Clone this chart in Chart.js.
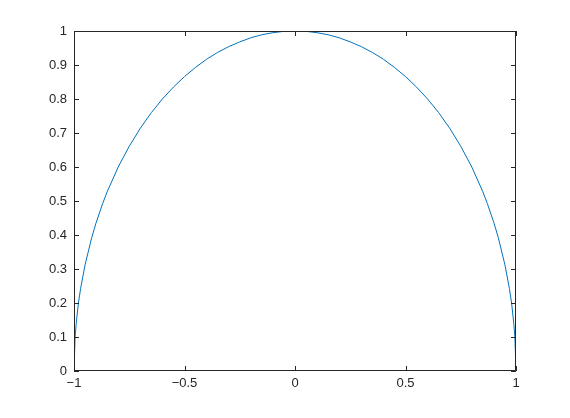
<!DOCTYPE html>
<html>
<head>
<meta charset="utf-8">
<script src="https://cdn.jsdelivr.net/npm/chart.js@4"></script>
<style>
  html, body { margin: 0; padding: 0; background: #fff; }
  #wrap { width: 570px; height: 418px; }
</style>
</head>
<body>
<div id="wrap"><canvas id="chart" width="570" height="418"></canvas></div>
<script>
// values
const xVals = [-1, -0.995, -0.99, -0.98, -0.97, -0.95, -0.92, -0.9, -0.87, -0.85, -0.8, -0.75, -0.7, -0.65, -0.6, -0.55, -0.5, -0.45, -0.4, -0.35, -0.3, -0.25, -0.2, -0.15, -0.1, -0.05, 0,
               0.05, 0.1, 0.15, 0.2, 0.25, 0.3, 0.35, 0.4, 0.45, 0.5, 0.55, 0.6, 0.65, 0.7, 0.75, 0.8, 0.85, 0.87, 0.9, 0.92, 0.95, 0.97, 0.98, 0.99, 0.995, 1];
const yVals = [0, 0.1, 0.14, 0.2, 0.243, 0.312, 0.392, 0.436, 0.493, 0.527, 0.6, 0.661, 0.714, 0.76, 0.8, 0.835, 0.866, 0.893, 0.917, 0.937, 0.954, 0.968, 0.98, 0.989, 0.995, 0.999, 1,
               0.999, 0.995, 0.989, 0.98, 0.968, 0.954, 0.937, 0.917, 0.893, 0.866, 0.835, 0.8, 0.76, 0.714, 0.661, 0.6, 0.527, 0.493, 0.436, 0.392, 0.312, 0.243, 0.2, 0.14, 0.1, 0];
const xTicks = [-1, -0.5, 0, 0.5, 1];
const yTicks = [0, 0.1, 0.2, 0.3, 0.4, 0.5, 0.6, 0.7, 0.8, 0.9, 1];

const points = xVals.map((x, i) => ({ x: x, y: yVals[i] }));
const axisColor = '#262626';

// box round the axes with inward tick marks, like the original
const boxPlugin = {
    id: 'box',
    afterDatasetsDraw(chart) {
        const { ctx, chartArea: a, scales } = chart;
        const len = 5;
        ctx.save();
        ctx.strokeStyle = axisColor;
        ctx.lineWidth = 1;
        ctx.beginPath();
        ctx.rect(a.left + 0.5, a.top + 0.5, a.right - a.left - 1, a.bottom - a.top - 1);
        xTicks.forEach(v => {
            const px = Math.round(scales.x.getPixelForValue(v)) + 0.5;
            ctx.moveTo(px, a.bottom); ctx.lineTo(px, a.bottom - len);
            ctx.moveTo(px, a.top); ctx.lineTo(px, a.top + len);
        });
        yTicks.forEach(v => {
            const py = Math.round(scales.y.getPixelForValue(v)) + 0.5;
            ctx.moveTo(a.left, py); ctx.lineTo(a.left + len, py);
            ctx.moveTo(a.right, py); ctx.lineTo(a.right - len, py);
        });
        ctx.stroke();
        ctx.restore();
    }
};

const fmt = v => String(v).replace('-', '\u2212');

new Chart(document.getElementById('chart'), {
    type: 'line',
    data: {
        datasets: [{
            data: points,
            borderColor: '#0072BD',
            borderWidth: 1,
            pointRadius: 0,
            tension: 0,
            fill: false
        }]
    },
    options: {
        responsive: false,
        animation: false,
        layout: { padding: { left: 0, top: 31, right: 54, bottom: 0 } },
        plugins: { legend: { display: false }, tooltip: { enabled: false } },
        scales: {
            x: {
                type: 'linear',
                min: -1,
                max: 1,
                afterFit: s => { s.height = 47; },
                afterBuildTicks: s => { s.ticks = xTicks.map(v => ({ value: v })); },
                grid: { display: false, drawTicks: false },
                border: { display: false },
                ticks: {
                    padding: 5,
                    color: axisColor,
                    font: { family: 'Liberation Sans', size: 13 },
                    maxRotation: 0,
                    callback: v => fmt(v)
                }
            },
            y: {
                type: 'linear',
                min: 0,
                max: 1,
                afterFit: s => { s.width = 74; },
                afterBuildTicks: s => { s.ticks = yTicks.map(v => ({ value: v })); },
                grid: { display: false, drawTicks: false },
                border: { display: false },
                ticks: {
                    padding: 7,
                    color: axisColor,
                    font: { family: 'Liberation Sans', size: 13 },
                    callback: v => fmt(v)
                }
            }
        }
    },
    plugins: [boxPlugin]
});
</script>
</body>
</html>
